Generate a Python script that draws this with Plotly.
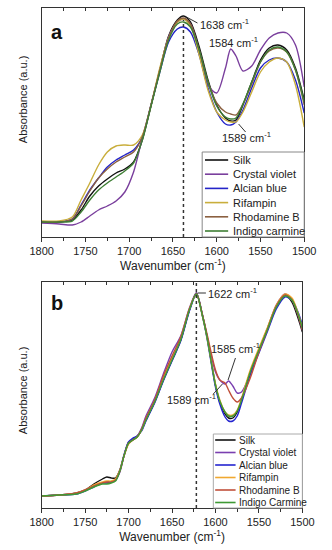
import plotly.graph_objects as go

# ---------------- Panel a data ----------------
wn_a = [1800, 1780, 1765, 1755, 1745, 1735, 1725, 1715, 1705, 1695, 1685, 1675, 1665, 1655,
        1645, 1638, 1630, 1620, 1610, 1600, 1590, 1584, 1578, 1570, 1560, 1550, 1540, 1530,
        1520, 1510, 1500]
silk_a = [0.015, 0.015, 0.025, 0.075, 0.145, 0.195, 0.23, 0.26, 0.28, 0.315, 0.425, 0.6, 0.775, 0.945,
          1.025, 1.045, 1.015, 0.89, 0.725, 0.6, 0.535, 0.52, 0.525, 0.6, 0.715, 0.825, 0.885, 0.9,
          0.875, 0.785, 0.625]
violet_a = [0.01, 0.005, 0.0, 0.015, 0.045, 0.075, 0.095, 0.12, 0.165, 0.265, 0.435, 0.6, 0.775, 0.94,
            1.015, 1.03, 1.005, 0.865, 0.7, 0.66, 0.785, 0.88, 0.845, 0.77, 0.795, 0.875, 0.935, 0.96,
            0.96, 0.9, 0.69]
alcian_a = [0.015, 0.015, 0.03, 0.1, 0.175, 0.235, 0.29, 0.325, 0.35, 0.375, 0.44, 0.6, 0.765, 0.915,
            0.98, 0.99, 0.965, 0.85, 0.685, 0.565, 0.505, 0.5, 0.515, 0.575, 0.685, 0.785, 0.825, 0.835,
            0.815, 0.725, 0.56]
rifampin_a = [0.02, 0.02, 0.04, 0.125, 0.21, 0.3, 0.365, 0.395, 0.4, 0.4, 0.45, 0.6, 0.785, 0.935,
              1.015, 1.03, 0.995, 0.85, 0.675, 0.565, 0.525, 0.515, 0.515, 0.565, 0.665, 0.765, 0.815, 0.835,
              0.815, 0.7, 0.49]
rhodamine_a = [0.015, 0.015, 0.03, 0.095, 0.17, 0.235, 0.28, 0.315, 0.34, 0.365, 0.44, 0.6, 0.775, 0.935,
               1.02, 1.035, 1.005, 0.875, 0.715, 0.61, 0.565, 0.555, 0.55, 0.605, 0.705, 0.815, 0.87, 0.885,
               0.865, 0.775, 0.6]
indigo_a = [0.015, 0.015, 0.02, 0.065, 0.125, 0.175, 0.21, 0.24, 0.27, 0.31, 0.425, 0.595, 0.765, 0.925,
            1.005, 1.015, 0.99, 0.875, 0.715, 0.595, 0.54, 0.53, 0.535, 0.605, 0.715, 0.815, 0.875, 0.89,
            0.865, 0.775, 0.615]

# ---------------- Panel b data ----------------
wn_b = [1800, 1780, 1760, 1750, 1740, 1730, 1725, 1720, 1715, 1710, 1705, 1700, 1695, 1690, 1685,
        1680, 1670, 1660, 1650, 1640, 1630, 1622, 1615, 1610, 1600, 1595, 1589, 1585, 1580, 1575,
        1570, 1560, 1550, 1540, 1530, 1520, 1512, 1505, 1500]
silk_b = [0, 0.005, 0.015, 0.03, 0.06, 0.085, 0.095, 0.09, 0.09, 0.13, 0.205, 0.265, 0.285, 0.3, 0.33,
          0.38, 0.47, 0.58, 0.68, 0.78, 0.93, 1.015, 0.905, 0.805, 0.555, 0.47, 0.41, 0.39, 0.39, 0.42,
          0.48, 0.62, 0.73, 0.84, 0.95, 1.005, 0.97, 0.89, 0.82]
violet_b = [0, 0.005, 0.015, 0.03, 0.05, 0.065, 0.07, 0.07, 0.08, 0.12, 0.205, 0.27, 0.28, 0.3, 0.34,
            0.4, 0.49, 0.61, 0.72, 0.8, 0.94, 1.015, 0.905, 0.805, 0.62, 0.58, 0.56, 0.575, 0.55, 0.515,
            0.52, 0.61, 0.73, 0.84, 0.955, 1.01, 0.98, 0.905, 0.83]
alcian_b = [0, 0.005, 0.01, 0.025, 0.045, 0.065, 0.065, 0.07, 0.08, 0.13, 0.21, 0.27, 0.29, 0.3, 0.325,
            0.375, 0.465, 0.575, 0.675, 0.775, 0.925, 1.01, 0.9, 0.795, 0.545, 0.46, 0.395, 0.375, 0.375, 0.4,
            0.465, 0.605, 0.715, 0.825, 0.935, 0.995, 0.98, 0.92, 0.855]
rifampin_b = [0, 0.005, 0.015, 0.03, 0.055, 0.07, 0.075, 0.075, 0.085, 0.13, 0.205, 0.26, 0.28, 0.295, 0.33,
              0.385, 0.475, 0.59, 0.69, 0.79, 0.935, 1.01, 0.9, 0.8, 0.56, 0.48, 0.42, 0.405, 0.405, 0.43,
              0.49, 0.63, 0.74, 0.845, 0.955, 1.01, 0.99, 0.915, 0.84]
rhodamine_b = [0, 0.005, 0.015, 0.03, 0.05, 0.065, 0.07, 0.07, 0.08, 0.125, 0.205, 0.265, 0.28, 0.295, 0.335,
               0.39, 0.48, 0.6, 0.7, 0.795, 0.935, 1.01, 0.905, 0.815, 0.63, 0.58, 0.565, 0.53, 0.49, 0.47,
               0.49, 0.59, 0.72, 0.835, 0.95, 1.005, 0.98, 0.905, 0.83]
indigo_b = [0, 0.005, 0.01, 0.025, 0.045, 0.06, 0.06, 0.065, 0.075, 0.125, 0.205, 0.265, 0.28, 0.295, 0.33,
            0.38, 0.47, 0.58, 0.68, 0.78, 0.93, 1.01, 0.9, 0.8, 0.555, 0.475, 0.42, 0.4, 0.4, 0.425,
            0.48, 0.62, 0.73, 0.835, 0.945, 1.0, 0.98, 0.91, 0.84]

names_a = ["Silk", "Crystal violet", "Alcian blue", "Rifampin", "Rhodamine B", "Indigo carmine"]
names_b = ["Silk", "Crystal violet", "Alcian blue", "Rifampin", "Rhodamine B", "Indigo Carmine"]
colors_a = ["#111111", "#7a3f9d", "#2424c8", "#c9ae3c", "#8b6040", "#3f7f35"]
colors_b = ["#111111", "#7a3fb0", "#2424d0", "#f0a830", "#c0503a", "#3f9a35"]
series_a = [silk_a, violet_a, alcian_a, rifampin_a, rhodamine_a, indigo_a]
series_b = [silk_b, violet_b, alcian_b, rifampin_b, rhodamine_b, indigo_b]

peak_a = [1638, 1584, 1589]
peak_b = [1622, 1585, 1589]

fig = go.Figure()
for i in range(6):
    fig.add_trace(go.Scatter(x=wn_a, y=series_a[i], mode="lines", name=names_a[i], showlegend=False,
                             line=dict(color=colors_a[i], width=1.4, shape="spline", smoothing=0.8),
                             xaxis="x", yaxis="y"))
for i in range(6):
    fig.add_trace(go.Scatter(x=wn_b, y=series_b[i], mode="lines", name=names_b[i], showlegend=False,
                             line=dict(color=colors_b[i], width=1.4, shape="spline", smoothing=0.8),
                             xaxis="x2", yaxis="y2"))
# empty carriers for the top (inner-tick) axes
fig.add_trace(go.Scatter(x=[1800, 1500], y=[None, None], xaxis="x3", yaxis="y",
                         showlegend=False, hoverinfo="skip"))
fig.add_trace(go.Scatter(x=[1800, 1500], y=[None, None], xaxis="x4", yaxis="y2",
                         showlegend=False, hoverinfo="skip"))

W, H = 332, 550
xdom = [32 / W, 315 / W]
xdom_b = [32 / W, 313 / W]
ydom_a = [(H - 237) / H, (H - 8) / H]
ydom_b = [(H - 508) / H, (H - 282) / H]

xax = dict(range=[1800, 1500], dtick=50, tick0=1500, ticks="outside", ticklen=4, tickwidth=1,
           tickcolor="#333", showline=True, linecolor="#333", linewidth=1, mirror=True,
           showgrid=False, zeroline=False, tickfont=dict(size=11, color="#222"),
           minor=dict(dtick=25, tick0=1500, ticks="outside", ticklen=3, tickcolor="#333"),
           title=dict(text="Wavenumber (cm<sup>-1</sup>)", font=dict(size=12, color="#222"), standoff=2))
topax = dict(range=[1800, 1500], dtick=25, tick0=1500, ticks="inside", ticklen=3, tickwidth=1,
             tickcolor="#333", showticklabels=False, showline=False, showgrid=False, zeroline=False,
             side="top")
yax = dict(showticklabels=False, ticks="", showline=True, linecolor="#333", linewidth=1, mirror=True,
           showgrid=False, zeroline=False)

fig.update_layout(
    width=W, height=H, margin=dict(l=0, r=0, t=0, b=0),
    paper_bgcolor="white", plot_bgcolor="white",
    font=dict(family="Liberation Sans, Arial, sans-serif", color="#222"),
    xaxis=dict(domain=xdom, anchor="y", **xax),
    yaxis=dict(domain=ydom_a, anchor="x", range=[-0.06, 1.085], **yax),
    xaxis2=dict(domain=xdom_b, anchor="y2", **xax),
    yaxis2=dict(domain=ydom_b, anchor="x2", range=[-0.06, 1.07], **yax),
    xaxis3=dict(domain=xdom, anchor="y", overlaying="x", **topax),
    xaxis4=dict(domain=xdom_b, anchor="y2", overlaying="x2", **topax),
    showlegend=False,
)

# dotted vertical markers
fig.add_shape(type="line", x0=peak_a[0], x1=peak_a[0], y0=-0.06, y1=1.025, xref="x", yref="y",
              line=dict(color="#333", width=1.5, dash="dot"))
fig.add_shape(type="line", x0=peak_b[0], x1=peak_b[0], y0=-0.06, y1=1.07, xref="x2", yref="y2",
              line=dict(color="#333", width=1.5, dash="dot"))

# leader lines
lines = [
    ("x", "y", 1634.6, 1.04, 1622, 1.01),
    ("x", "y", 1575, 0.505, 1567, 0.465),
    ("x2", "y2", 1620.5, 1.015, 1611, 1.015),
    ("x2", "y2", 1577, 0.69, 1585.5, 0.58),
    ("x2", "y2", 1602.5, 0.51, 1592, 0.56),
]
for xr, yr, x0, y0, x1, y1 in lines:
    fig.add_shape(type="line", xref=xr, yref=yr, x0=x0, y0=y0, x1=x1, y1=y1,
                  line=dict(color="#333", width=1))

ann_font = dict(size=11, color="#222")
labels = [
    ("x", "y", 1621.5, 1.005, f"{peak_a[0]} cm<sup>-1</sup>", "left"),
    ("x", "y", 1581, 0.915, f"{peak_a[1]} cm<sup>-1</sup>", "center"),
    ("x", "y", 1566, 0.44, f"{peak_a[2]} cm<sup>-1</sup>", "center"),
    ("x2", "y2", 1610.5, 1.015, f"{peak_b[0]} cm<sup>-1</sup>", "left"),
    ("x2", "y2", 1577, 0.74, f"{peak_b[1]} cm<sup>-1</sup>", "center"),
    ("x2", "y2", 1628, 0.485, f"{peak_b[2]} cm<sup>-1</sup>", "center"),
]
for xr, yr, x, y, t, xa in labels:
    fig.add_annotation(xref=xr, yref=yr, x=x, y=y, text=t, showarrow=False,
                       xanchor=xa, yanchor="middle", font=ann_font)


# compact legends (boxed) built from the series names/colours
def add_legend(names, colors, box, y_first, step, line_x, text_x, fsize, border):
    x0, y0, x1, y1 = box
    fig.add_shape(type="rect", xref="paper", yref="paper", x0=x0 / W, x1=x1 / W,
                  y0=1 - y1 / H, y1=1 - y0 / H, line=dict(color=border, width=1), fillcolor="white",
                  layer="above")
    for i, (n, c) in enumerate(zip(names, colors)):
        yy = 1 - (y_first + step * i) / H
        fig.add_shape(type="line", xref="paper", yref="paper", x0=line_x[0] / W, x1=line_x[1] / W,
                      y0=yy, y1=yy, line=dict(color=c, width=1.6), layer="above")
        fig.add_annotation(xref="paper", yref="paper", x=text_x / W, y=yy, text=n, showarrow=False,
                           xanchor="left", yanchor="middle", font=dict(size=fsize, color="#222"))


add_legend(names_a, colors_a, (205, 152, 315, 237), 160, 14.2, (208, 233), 236, 11, "#888")
add_legend(names_b, colors_b, (217, 434, 313, 508), 440, 12.5, (219, 241), 242, 10, "#aaa")

# panel letters
fig.add_annotation(xref="paper", yref="paper", x=48 / W, y=(H - 32) / H, text="<b>a</b>",
                   showarrow=False, font=dict(size=20, color="#111"), xanchor="center", yanchor="middle")
fig.add_annotation(xref="paper", yref="paper", x=48 / W, y=(H - 303) / H, text="<b>b</b>",
                   showarrow=False, font=dict(size=20, color="#111"), xanchor="center", yanchor="middle")

# y-axis titles
for yc in [(H - 100) / H, (H - 391) / H]:
    fig.add_annotation(xref="paper", yref="paper", x=12 / W, y=yc, text="Absorbance (a.u.)",
                       textangle=-90, showarrow=False, font=dict(size=11, color="#222"),
                       xanchor="center", yanchor="middle")

fig.write_html("out.html", config={"displayModeBar": False},
               post_script="document.body.style.margin='0px';")
